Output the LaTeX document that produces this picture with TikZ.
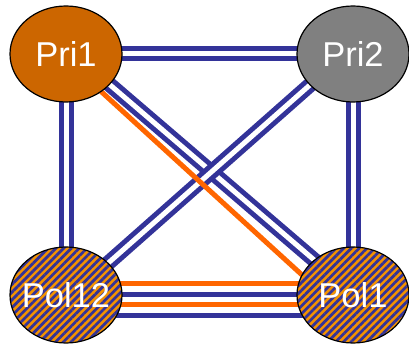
\documentclass[tikz,border=0pt]{standalone}
\usepackage{fontspec}
\setmainfont{Liberation Sans}
\usetikzlibrary{shapes.geometric, patterns.meta, backgrounds}
\definecolor{linkblue}{HTML}{333399}
\definecolor{linkorange}{HTML}{FF6600}
\definecolor{priorange}{HTML}{CC6600}
\definecolor{prigray}{HTML}{808080}
\definecolor{stripeorange}{HTML}{F39200}
\tikzset{
  router/.style={ellipse, draw=black, line width=1.2pt, minimum width=112pt,
    minimum height=96pt, inner sep=0pt, text=white, font=\fontsize{34.5}{40}\selectfont},
  striped/.style={preaction={fill=stripeorange},
    pattern={Lines[angle=45, distance=5.5pt, line width=2.75pt]}, pattern color=linkblue},
  bluelink/.style={draw=linkblue, line width=5pt, double=white, double distance=5pt},
  orangelink/.style={draw=linkorange, line width=5pt},
  singleblue/.style={draw=linkblue, line width=5pt}
}
\newcommand{\rname}[1]{\makebox[0pt]{#1}}

\begin{document}
\begin{tikzpicture}[x=1pt, y=1pt]
  \useasboundingbox (0,0) rectangle (409,343);
  % routers
  \node[router, fill=priorange] (Pri1) at (66,289) {\rname{Pri1}};
  \node[router, fill=prigray] (Pri2) at (353,289) {\rname{Pri2}};
  \node[router, striped] (Pol12) at (66,48) {\rname{Pol12}};
  \node[router, striped] (Pol1) at (353,48) {\rname{Pol1}};
  % links
  \begin{scope}[on background layer]
    \draw[bluelink] (Pri1.center) -- (Pri2.center);
    \draw[bluelink] (Pri1.center) -- (Pol12.center);
    \draw[bluelink] (Pri2.center) -- (Pol1.center);
    \draw[bluelink] ([xshift=8pt]Pri1.center) -- ([xshift=2pt]Pol1.center);
    \draw[bluelink] ([xshift=-8pt]Pri2.center) -- ([xshift=6pt]Pol12.center);
    \draw[orangelink] ([xshift=-6pt]Pri1.center) -- ([xshift=-29pt]Pol1.center);
    \draw[orangelink] ([yshift=12pt]Pol12.center) -- ([yshift=12pt]Pol1.center);
    \draw[singleblue] ([yshift=1pt]Pol12.center) -- ([yshift=1pt]Pol1.center);
    \draw[orangelink] ([yshift=-9pt]Pol12.center) -- ([yshift=-9pt]Pol1.center);
    \draw[singleblue] ([yshift=-20pt]Pol12.center) -- ([yshift=-20pt]Pol1.center);
  \end{scope}
\end{tikzpicture}
\end{document}
